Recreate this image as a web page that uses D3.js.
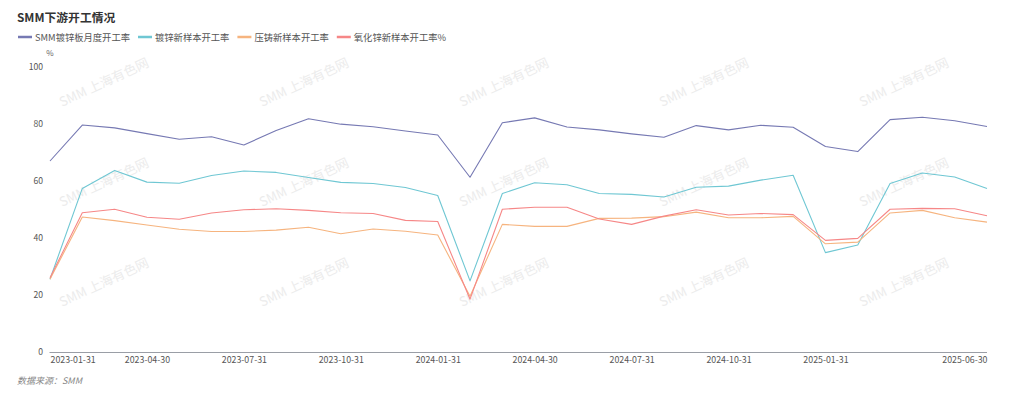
<!DOCTYPE html>
<html><head><meta charset="utf-8">
<script src="https://cdn.jsdelivr.net/npm/d3@7"></script>
<style>body{margin:0;background:#fff}svg{display:block}</style>
</head><body>
<svg id="c" width="1024" height="399"></svg>
<script>
const dates = ["2023-01-31","2023-02-28","2023-03-31","2023-04-30","2023-05-31","2023-06-30","2023-07-31","2023-08-31","2023-09-30","2023-10-31","2023-11-30","2023-12-31",
"2024-01-31","2024-02-29","2024-03-31","2024-04-30","2024-05-31","2024-06-30","2024-07-31","2024-08-31","2024-09-30","2024-10-31","2024-11-30","2024-12-31",
"2025-01-31","2025-02-28","2025-03-31","2025-04-30","2025-05-31","2025-06-30"];
const tickLabels = ["2023-01-31","2023-04-30","2023-07-31","2023-10-31","2024-01-31","2024-04-30","2024-07-31","2024-10-31","2025-01-31","2025-06-30"];
const yTicks = [0,20,40,60,80,100];
const seriesNames = ["SMM镀锌板月度开工率","镀锌新样本开工率","压铸新样本开工率","氧化锌新样本开工率%"];
const seriesColors = ["#7679b3","#6fc7d3","#f6b47f","#f68787"];
const galvPlate = [66.9,79.5,78.5,76.5,74.5,75.4,72.5,77.6,81.7,79.8,78.9,77.4,76.0,61.2,80.3,82.0,78.8,77.8,76.4,75.2,79.3,77.8,79.4,78.7,72.0,70.2,81.4,82.2,81.0,79.0];
const galvSample = [25.5,57.3,63.6,59.5,59.1,61.8,63.4,62.9,61.1,59.4,59.0,57.6,54.8,24.9,55.5,59.3,58.6,55.5,55.2,54.3,57.7,58.1,60.2,61.9,34.8,37.5,59.0,62.7,61.3,57.3];
const dieCast = [25.5,47.3,46.0,44.5,43.0,42.2,42.2,42.7,43.7,41.4,43.1,42.3,41.0,19.5,44.7,44.0,44.0,46.8,46.9,47.4,49.0,47.0,47.0,47.5,37.9,38.5,48.7,49.6,47.0,45.5];
const zincOxide = [26.0,48.8,50.0,47.2,46.5,48.7,49.8,50.2,49.6,48.8,48.5,46.1,45.7,18.5,50.0,50.7,50.7,46.6,44.7,47.6,49.8,48.0,48.5,48.1,39.1,39.8,50.0,50.3,50.2,47.7];
const seriesValues = [galvPlate, galvSample, dieCast, zincOxide];

const svg = d3.select("#c");
const FONT = "'Noto Sans CJK SC','Noto Sans',sans-serif";

// watermark
const wm = svg.append("g");
for (let r = 0; r < 3; r++) for (let c = 0; c < 5; c++) {
  wm.append("text").attr("transform",`translate(${62+200*c},${107+100*r}) rotate(-25)`)
    .attr("font-family",FONT).attr("font-size",13).attr("fill","#ececec").text("SMM 上海有色网");
}

const x = d3.scalePoint().domain(dates).range([50, 987]);
const y = d3.scaleLinear().domain([0,100]).range([352, 66.5]);

// title
svg.append("text").attr("x",17).attr("y",22).attr("font-family",FONT).attr("font-weight","bold")
  .attr("font-size",11.8).attr("fill","#333").text("SMM下游开工情况");

// legend
let lx = 18;
seriesNames.forEach((n,i)=>{
  const g = svg.append("g");
  g.append("line").attr("x1",lx).attr("x2",lx+14).attr("y1",37).attr("y2",37)
    .attr("stroke",seriesColors[i]).attr("stroke-width",2.5);
  const t = g.append("text").attr("x",lx+17).attr("y",40.5).attr("font-family",FONT)
    .attr("font-size",9.3).attr("fill","#555").text(n);
  lx = lx + 17 + t.node().getComputedTextLength() + 8;
});

// unit
svg.append("text").attr("x",50).attr("y",56).attr("font-family",FONT).attr("font-size",8)
  .attr("fill","#666").attr("text-anchor","middle").text("%");

// y axis
const ya = svg.append("g").attr("transform","translate(46,0)")
  .call(d3.axisLeft(y).tickValues(yTicks).tickSize(0).tickPadding(3));
ya.select(".domain").remove();
ya.selectAll("text").attr("font-family",FONT).attr("font-size",8.6).attr("fill","#555");

// x axis
const xa = svg.append("g").attr("transform","translate(0,352)")
  .call(d3.axisBottom(x).tickValues(tickLabels).tickSize(0).tickPadding(5));
xa.select(".domain").attr("stroke","#9a9ea6").attr("stroke-width",1).attr("d","M49.5,0.5H987");
xa.selectAll("text").attr("font-family",FONT).attr("font-size",8.8).attr("fill","#555");
xa.selectAll(".tick text").attr("text-anchor",(d,i,a)=> i===0 ? "start" : (i===a.length-1 ? "end" : "middle"));

// lines
const line = d3.line().x((d,i)=>x(dates[i])).y(d=>y(d));
seriesValues.forEach((vals,i)=>{
  svg.append("path").datum(vals).attr("d",line).attr("fill","none")
    .attr("stroke",seriesColors[i]).attr("stroke-width",1.1).attr("stroke-linejoin","round");
});

// source
svg.append("text").attr("x",17).attr("y",384).attr("font-family",FONT).attr("font-size",9)
  .attr("font-style","italic").attr("fill","#888").text("数据来源：SMM");
</script>
</body></html>
